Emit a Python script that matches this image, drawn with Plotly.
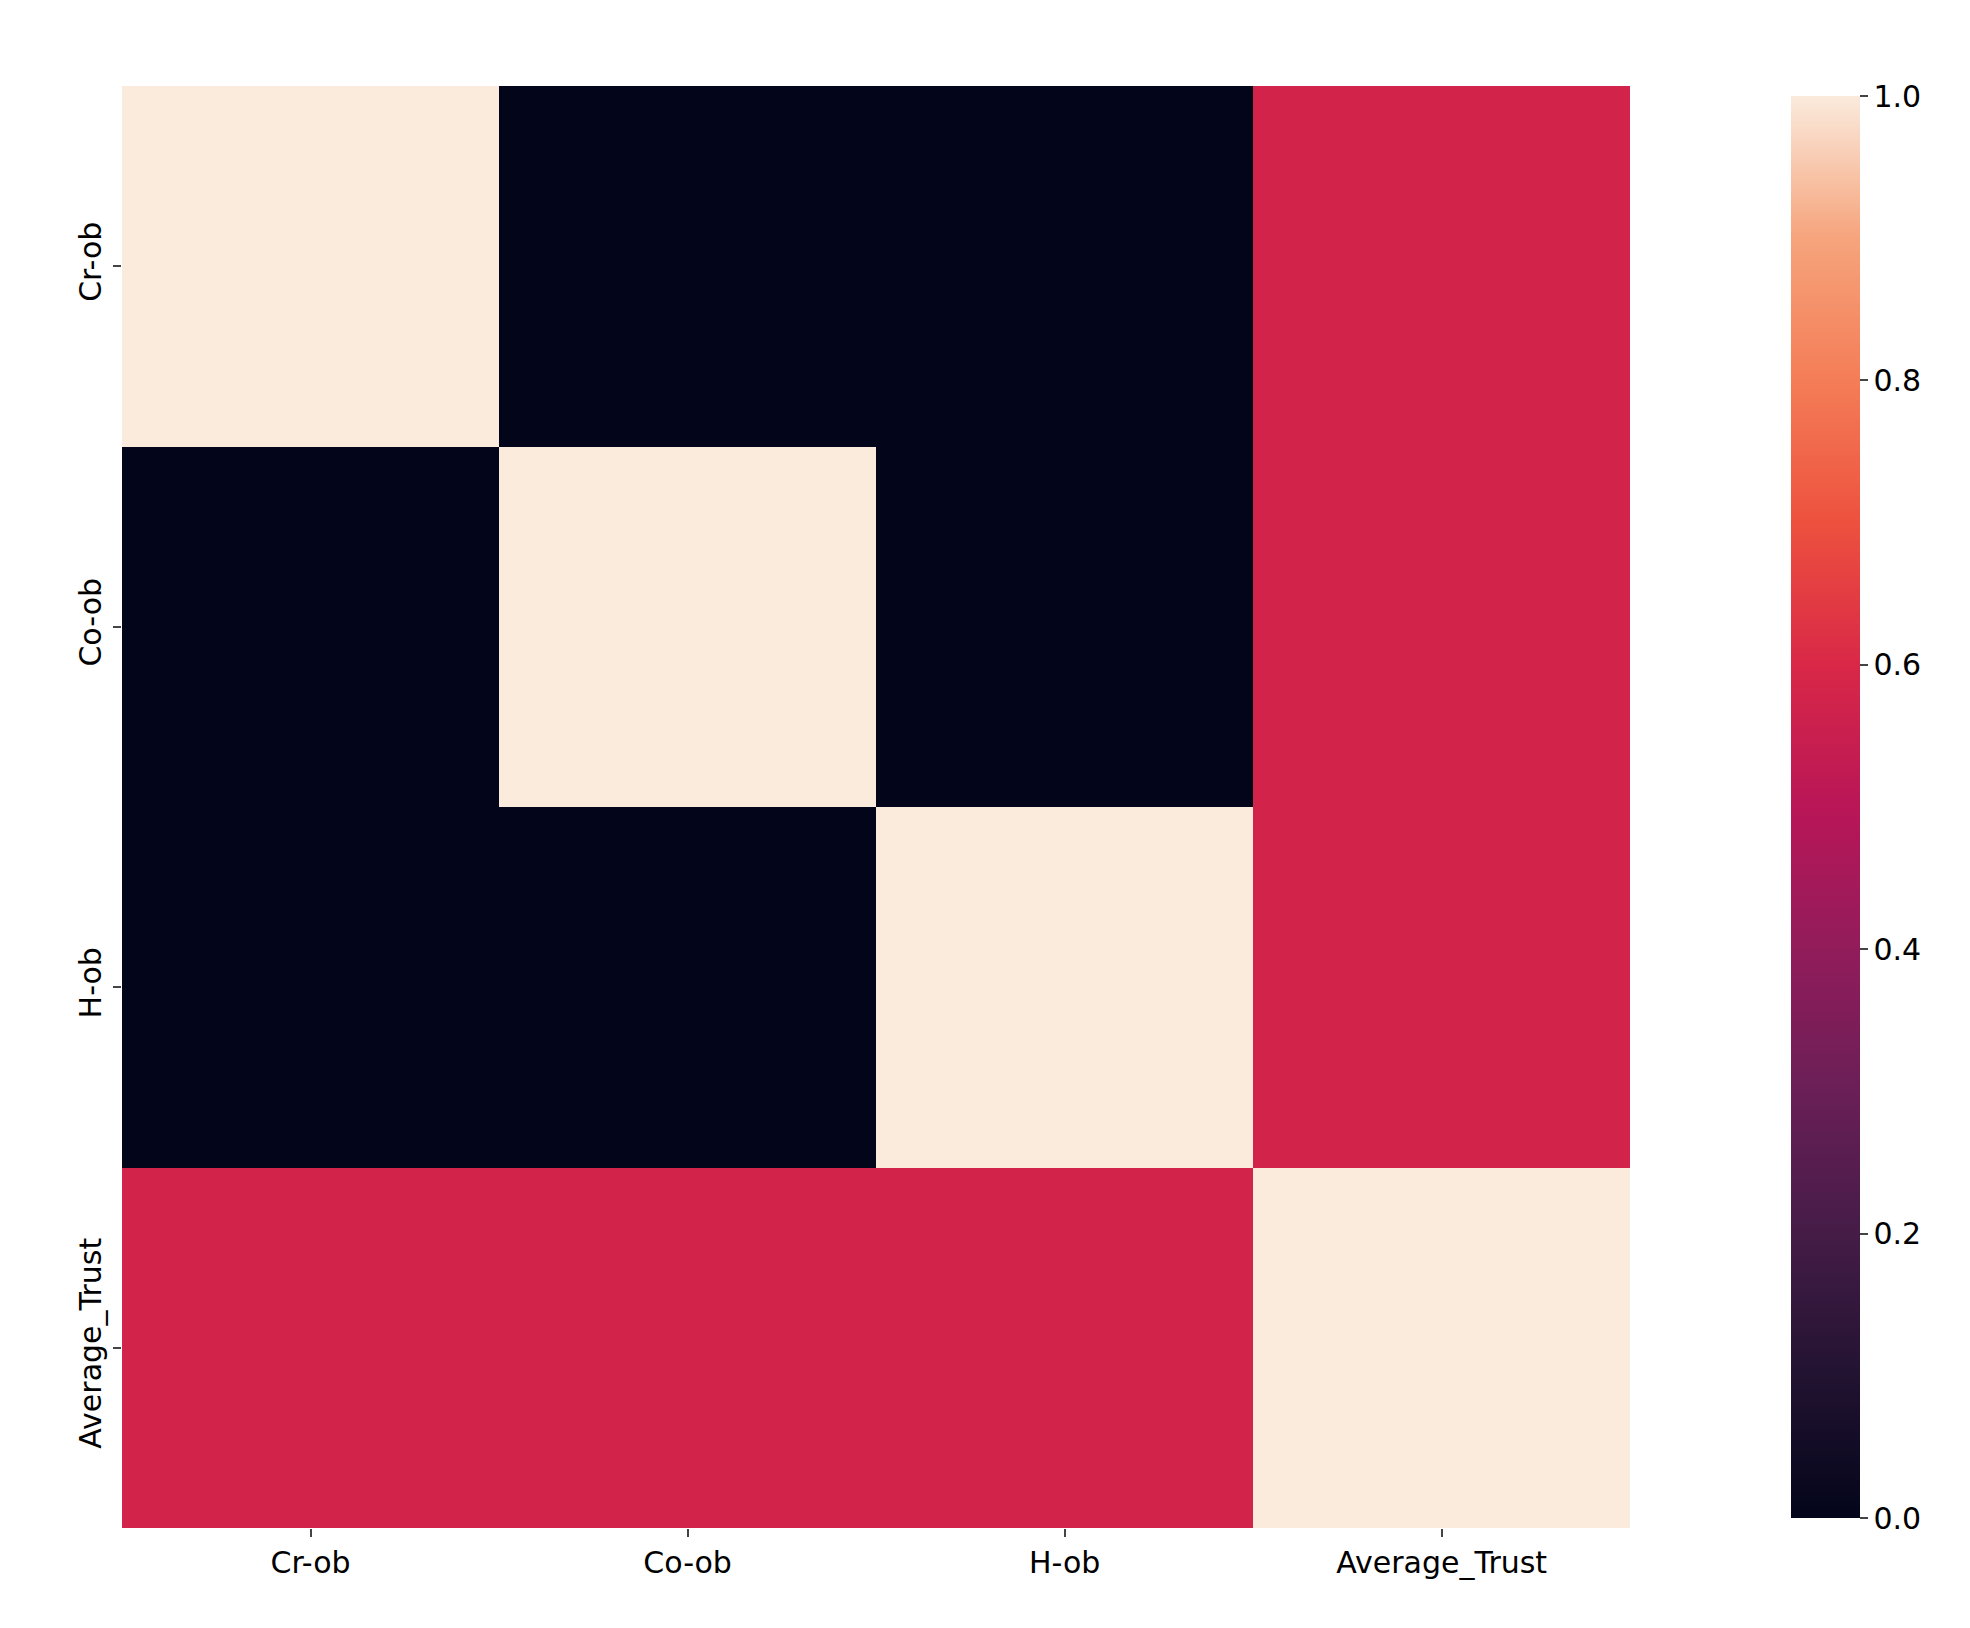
import plotly.graph_objects as go

labels = ["Cr-ob", "Co-ob", "H-ob", "Average_Trust"]
corr = [
    [1.0, 0.0, 0.0, 0.577],
    [0.0, 1.0, 0.0, 0.577],
    [0.0, 0.0, 1.0, 0.577],
    [0.577, 0.577, 0.577, 1.0],
]

rocket = [
    [0.0, "#03051A"], [0.1, "#221331"], [0.2, "#451C47"], [0.3, "#6A1F56"],
    [0.4, "#921C5B"], [0.5, "#B91657"], [0.6, "#D92847"], [0.7, "#ED513E"],
    [0.8, "#F47D57"], [0.9, "#F6A47C"], [1.0, "#FAEBDD"],
]

fig = go.Figure(go.Heatmap(
    z=corr, x=labels, y=labels, colorscale=rocket, zmin=0, zmax=1,
    colorbar=dict(
        x=0.895, xanchor="left", y=0.5, len=1.0, thickness=69,
        outlinewidth=0, ticks="outside", ticklen=8, tickwidth=2,
        tickvals=[0, 0.2, 0.4, 0.6, 0.8, 1.0],
        ticktext=["0.0", "0.2", "0.4", "0.6", "0.8", "1.0"],
        tickfont=dict(size=30, color="black"),
    ),
))

fig.update_xaxes(ticks="outside", ticklen=8, tickwidth=2, showgrid=False,
                 tickfont=dict(size=30, color="black"))
fig.update_yaxes(autorange="reversed", ticks="outside", ticklen=8, tickwidth=2,
                 showgrid=False, tickangle=-90, tickfont=dict(size=30, color="black"))

fig.update_layout(
    width=1970, height=1628,
    margin=dict(l=114, r=2, t=78, b=108),
    paper_bgcolor="white", plot_bgcolor="white",
    font=dict(family="DejaVu Sans"),
    xaxis=dict(domain=[0, 0.8135]),
)
fig.write_html("out.html")
